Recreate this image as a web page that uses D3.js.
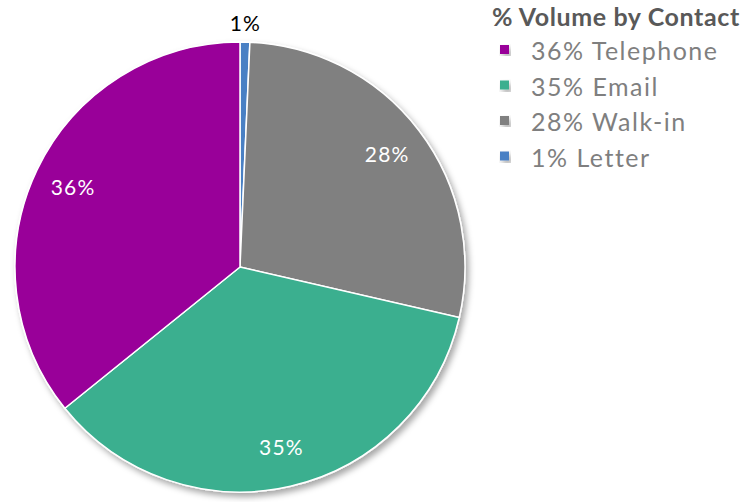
<!DOCTYPE html>
<html>
<head>
<meta charset="utf-8">
<script src="https://cdn.jsdelivr.net/npm/d3@7"></script>
<style>
  body { margin: 0; background: #fff; }
  svg { display: block; font-family: Lato, "Open Sans", sans-serif; }
</style>
</head>
<body>
<svg id="chart"></svg>
<script>
// legend order
let categories = ["Telephone", "Email", "Walk-in", "Letter"];
let values = [35.8, 35.6, 27.9, 0.7];
let pctLabels = ["36%", "35%", "28%", "1%"];
let colors = ["#990099", "#3aaf8f", "#808080", "#4a80c4"];

window.onload = function() {
   drawChart();
}

function drawChart() {
   let width = 752;
   let height = 502;
   let cx = 240, cy = 267, radius = 225;

   let svg = d3.select("#chart")
      .attr("width", width)
      .attr("height", height);

   // soft drop shadow like the spreadsheet export
   let defs = svg.append("defs");
   let f = defs.append("filter").attr("id", "shadow")
      .attr("x", "-10%").attr("y", "-10%").attr("width", "130%").attr("height", "130%");
   f.append("feDropShadow")
      .attr("dx", 3).attr("dy", 4).attr("stdDeviation", 3)
      .attr("flood-color", "#000").attr("flood-opacity", 0.35);

   // pie goes clockwise from 12 o'clock: Letter, Walk-in, Email, Telephone
   let rows = categories.map((c, i) => ({cat: c, value: values[i], label: pctLabels[i], color: colors[i]})).reverse();

   let pie = d3.pie().sort(null).value(d => d.value);
   let arcs = pie(rows);
   let arc = d3.arc().innerRadius(0).outerRadius(radius);
   let labelArc = d3.arc().innerRadius(185).outerRadius(185);
   let outerArc = d3.arc().innerRadius(243).outerRadius(243);

   let g = svg.append("g").attr("transform", "translate(" + cx + "," + cy + ")");

   g.append("g").attr("filter", "url(#shadow)")
      .selectAll("path")
      .data(arcs)
      .join("path")
         .attr("d", arc)
         .attr("fill", d => d.data.color)
         .attr("stroke", "#fff")
         .attr("stroke-width", 1.5);

   g.selectAll("text.pct")
      .data(arcs)
      .join("text")
         .attr("class", "pct")
         .attr("transform", function(d) {
            let p = d.data.value < 3 ? outerArc.centroid(d) : labelArc.centroid(d);
            return "translate(" + p + ")";
         })
         .attr("text-anchor", "middle")
         .attr("dy", "0.35em")
         .attr("font-size", "21px")
         .attr("letter-spacing", "1.2px")
         .attr("fill", d => d.data.value < 3 ? "#000" : "#fff")
         .text(d => d.data.label);

   // Legend
   let lx = 492;
   svg.append("text")
      .attr("x", lx)
      .attr("y", 26)
      .attr("font-size", "25px")
      .attr("letter-spacing", "0.6px")
      .attr("font-weight", "bold")
      .attr("fill", "#595959")
      .text("% Volume by Contact");

   let item = svg.append("g").selectAll("g")
      .data(categories)
      .join("g")
         .attr("transform", (d, i) => "translate(" + lx + "," + (60 + i * 35.5) + ")");

   item.append("rect")
      .attr("x", 8)
      .attr("y", -15)
      .attr("width", 9)
      .attr("height", 9)
      .attr("fill", (d, i) => colors[i])
      .attr("filter", "url(#shadow)");

   item.append("text")
      .attr("x", 39)
      .attr("y", 0)
      .attr("font-size", "25px")
      .attr("letter-spacing", "1.5px")
      .attr("fill", "#7f7f7f")
      .text((d, i) => pctLabels[i] + " " + d);
}
</script>
</body>
</html>
